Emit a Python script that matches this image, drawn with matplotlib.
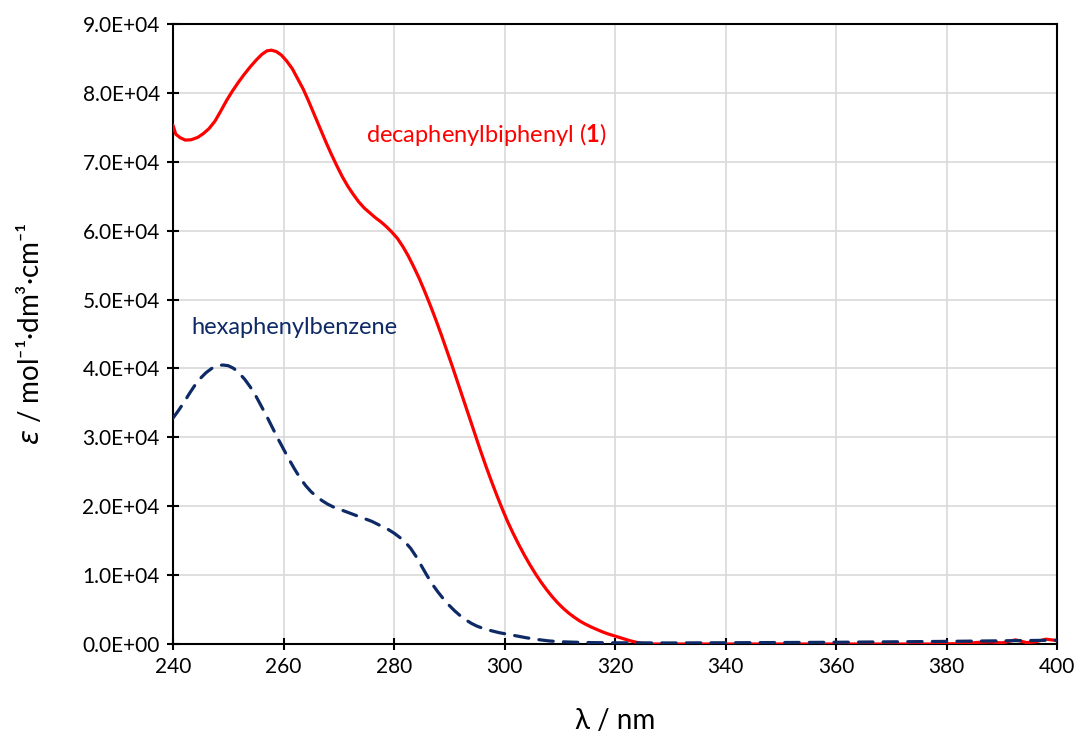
import matplotlib
matplotlib.use("Agg")
import matplotlib.pyplot as plt
from matplotlib.ticker import FuncFormatter, MultipleLocator

# ---- data ----
wl_deca = [240, 240.5, 241.3, 242.2, 243.3, 244.5, 245.5, 246.5, 247.6, 248.6, 249.7,
           250.7, 251.8, 252.9, 254, 255.1, 256.1, 257, 257.8, 258.7, 259.6, 260.6,
           261.6, 262.6, 263.6, 264.6, 265.6, 266.6, 267.6, 268.6, 269.6, 270.6,
           271.6, 272.6, 273.6, 274.6, 275.6, 276.6, 277.6, 278.6, 279.6, 280.6,
           281.6, 282.6, 283.6, 284.6, 285.6, 286.6, 287.6, 288.6, 289.6, 290.6,
           291.6, 292.6, 293.6, 294.6, 295.6, 296.6, 297.6, 298.6, 299.6, 300.6,
           301.6, 302.6, 303.6, 304.6, 305.6, 306.6, 307.6, 308.6, 309.6, 310.6,
           311.6, 312.6, 313.6, 314.6, 315.6, 316.6, 317.6, 318.6, 319.6, 320.6,
           321.6, 322.6, 323.6, 324.6, 325.6, 340, 360, 378, 383, 386, 388, 390,
           392.5, 394.5, 396, 398, 400]
eps_deca = [75300, 74000, 73500, 73150, 73200, 73550, 74100, 74800, 75900, 77300, 78900,
            80200, 81500, 82700, 83800, 84800, 85600, 86100, 86200, 86000, 85500, 84600,
            83500, 82000, 80500, 78700, 76800, 74900, 73000, 71200, 69500, 67900,
            66500, 65300, 64200, 63300, 62600, 61900, 61300, 60600, 59800, 58900,
            57700, 56300, 54700, 53000, 51100, 49100, 47000, 44800, 42500, 40200,
            37800, 35400, 33000, 30600, 28200, 25900, 23700, 21600, 19600, 17700,
            16000, 14400, 12900, 11500, 10200, 9000, 7900, 6900, 6000, 5200,
            4500, 3900, 3350, 2900, 2500, 2150, 1800, 1500, 1250, 1000,
            750, 500, 300, 120, 0, 0, 0, 0, 50, 250, 300, 150,
            600, 200, 300, 700, 500]

wl_hexa = [240, 241, 242, 243, 244, 245, 246, 247, 248, 249, 250, 251, 252, 253, 254,
           255, 256, 257, 258, 259, 260, 261, 262, 263, 264, 265, 266, 267, 268, 269,
           270, 271, 272, 273, 274, 275, 276, 277, 278, 279, 280, 281, 282, 283, 284,
           285, 286, 287, 288, 289, 290, 291, 292, 293, 294, 295, 296, 297, 298, 299,
           300, 302, 304, 306, 308, 310, 313, 316, 320, 330, 340, 360, 380, 400]
eps_hexa = [32800, 33900, 35100, 36400, 37600, 38600, 39400, 40000, 40400, 40500, 40400,
            40000, 39300, 38400, 37300, 36000, 34500, 33000, 31400, 29800, 28300, 26800,
            25400, 24100, 23000, 22100, 21400, 20800, 20300, 19900, 19600, 19300, 19000,
            18700, 18400, 18100, 17800, 17400, 17000, 16600, 16100, 15500, 14800, 13900,
            12700, 11300, 9900, 8600, 7500, 6500, 5600, 4800, 4100, 3500, 3000, 2600,
            2300, 2050, 1850, 1650, 1500, 1200, 900, 650, 450, 330, 250, 200, 170, 150,
            180, 250, 380, 550]

label_deca = r"decaphenylbiphenyl ($\mathbf{1}$)"
label_hexa = "hexaphenylbenzene"

plt.rcParams["font.family"] = ["Lato", "DejaVu Sans"]
plt.rcParams["mathtext.fontset"] = "custom"
plt.rcParams["mathtext.rm"] = "Lato"
plt.rcParams["mathtext.it"] = "DejaVu Sans:italic"
plt.rcParams["mathtext.bf"] = "Lato:bold"

fig = plt.figure(figsize=(10.77, 7.36), dpi=100)
ax = fig.add_axes([173/1077, 1-644/736, (1057-173)/1077, (644-24)/736])

ax.plot(wl_deca, eps_deca, color="#FF0000", lw=2.3, solid_capstyle="round",
        solid_joinstyle="round", zorder=3)
ax.plot(wl_hexa, eps_hexa, color="#0E2A66", lw=2.3, linestyle=(0, (4.5, 3.2)),
        dash_capstyle="round", zorder=3)

ax.set_xlim(240, 400)
ax.set_ylim(0, 90000)
ax.xaxis.set_major_locator(MultipleLocator(20))
ax.yaxis.set_major_locator(MultipleLocator(10000))
ax.yaxis.set_major_formatter(FuncFormatter(lambda v, p: "%.1fE+%02d" % (v/1e4, 4) if v > 0 else "0.0E+00"))

ax.grid(True, color="#D9D9D9", lw=1.2, zorder=0)
ax.set_axisbelow(True)
for s in ax.spines.values():
    s.set_color("black")
    s.set_linewidth(1.5)
ax.tick_params(direction="inout", length=9, width=1.5, labelsize=15, colors="black", pad=5)

ax.set_xlabel("λ / nm", fontsize=20, labelpad=22)
ax.set_ylabel(r"$\mathit{ε}$ / mol⁻¹·dm³·cm⁻¹", fontsize=20, labelpad=28)

ax.text(274.9, 74000, label_deca, color="#FF0000", fontsize=17, ha="left", va="center")
ax.text(243.4, 46000, label_hexa, color="#0E2A66", fontsize=17, ha="left", va="center")

fig.savefig("out.png", dpi=100)
